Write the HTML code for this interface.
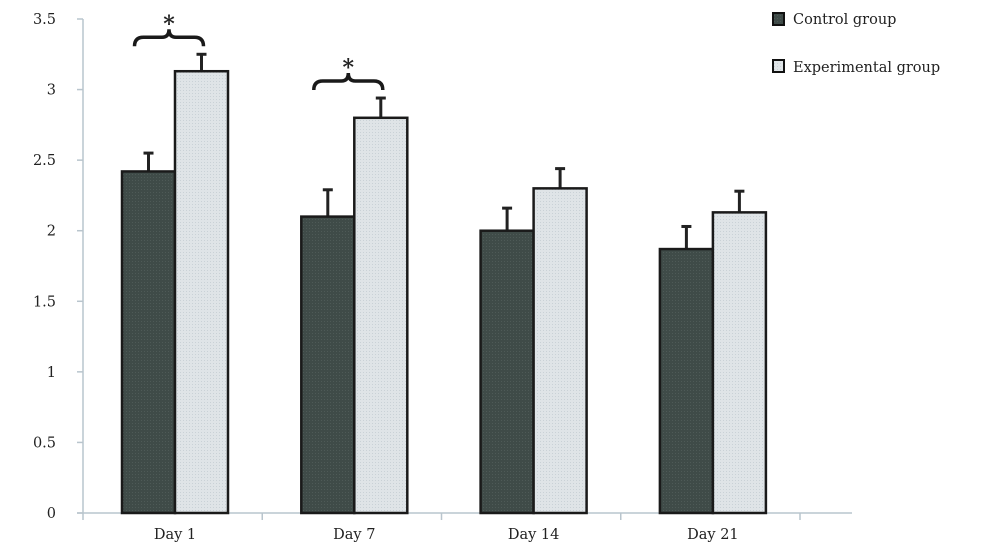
<!DOCTYPE html>
<html><head><meta charset="utf-8"><style>
html,body{margin:0;padding:0;background:#fff;}
svg text{font-family:"DejaVu Serif","Liberation Serif",serif;fill:#222;}
</style></head><body>
<svg id="chart" width="1000" height="554" xmlns="http://www.w3.org/2000/svg">
<defs>
<pattern id="dotsLight" width="3" height="3" patternUnits="userSpaceOnUse"><rect width="3" height="3" fill="#dfe4e7"/><rect width="1" height="1" fill="#c9d1d6"/></pattern>
<pattern id="dotsDark" width="3" height="3" patternUnits="userSpaceOnUse"><rect width="3" height="3" fill="#3f4b48"/><rect width="1" height="1" fill="#4e5a57"/></pattern>
</defs>
<g id="axes"></g>
<g id="bars"></g>
<g id="annot"></g>
<g>
<rect x="773" y="13" width="11" height="12" fill="url(#dotsDark)" stroke="#111" stroke-width="2"/>
<text x="793" y="24" font-size="14.5">Control group</text>
<rect x="773" y="60" width="11" height="12" fill="url(#dotsLight)" stroke="#111" stroke-width="2"/>
<text x="793" y="72" font-size="14.5">Experimental group</text>
</g>
</svg>
<script>
const categories=["Day 1","Day 7","Day 14","Day 21"];
const controlValues=[2.42,2.1,2.0,1.87];
const controlErrors=[0.13,0.19,0.16,0.16];
const experimentalValues=[3.13,2.8,2.3,2.13];
const experimentalErrors=[0.12,0.14,0.14,0.15];
const yTicks=["0","0.5","1","1.5","2","2.5","3","3.5"];
const significant=[true,true,false,false];

const NS="http://www.w3.org/2000/svg";
const x0=83,x1=852,yBase=513,yTop=19,yMax=3.5;
const groupW=(800-83)/4;
function y(v){return yBase-(v/yMax)*(yBase-yTop);}
function gx(i){return 122+i*179.3;}
function mk(tag,attrs,parent){const e=document.createElementNS(NS,tag);for(const k in attrs)e.setAttribute(k,attrs[k]);parent.appendChild(e);return e;}
const axes=document.getElementById('axes'),bars=document.getElementById('bars'),annot=document.getElementById('annot');
const ax='#b9c5cd';
let l=mk('line',{x1:x0,y1:yTop,x2:x0,y2:yBase,stroke:ax,'stroke-width':1.5},axes);


l=mk('line',{x1:x0-6,y1:yBase,x2:x1,y2:yBase,stroke:ax,'stroke-width':1.5},axes);


yTicks.forEach((t,i)=>{const v=parseFloat(t);const yy=y(v);
 let tk=mk('line',{x1:x0-6,y1:yy,x2:x0,y2:yy,stroke:ax,'stroke-width':1.5},axes);
 
 
 let tx=mk('text',{x:56,y:yy+5,'font-size':14.5,'text-anchor':'end'},axes);tx.textContent=t;
 
 
});
for(let i=0;i<=categories.length;i++){const xx=x0+i*groupW;
 let tk=mk('line',{x1:xx,y1:yBase,x2:xx,y2:yBase+7,stroke:ax,'stroke-width':1.5},axes);
 
 }
const bw=53;
categories.forEach((c,i)=>{
 const bx=gx(i);
 const series=[[controlValues[i],controlErrors[i],'url(#dotsDark)','bar-control'],[experimentalValues[i],experimentalErrors[i],'url(#dotsLight)','bar-experimental']];
 series.forEach((s,j)=>{
  const xx=bx+j*bw, top=y(s[0]);
  const cx=xx+bw/2, et=y(s[0]+s[1]);
  let e=mk('line',{x1:cx,y1:top,x2:cx,y2:et,stroke:'#222','stroke-width':3},bars);
  
  
  e=mk('line',{x1:cx-5,y1:et,x2:cx+5,y2:et,stroke:'#222','stroke-width':3},bars);
  
  
  const r=mk('rect',{x:xx,y:top,width:bw,height:yBase-top,fill:s[2],stroke:'#1a1a1a','stroke-width':2.5},bars);
  
  
 });
 const t=mk('text',{x:bx+bw,y:539,'font-size':14.5,'text-anchor':'middle'},axes);t.textContent=c;
 
 
 if(significant[i]){
  const lx=bx+bw/2-14,rx=bx+bw*1.5+2,mx=(lx+rx)/2;
  const by=y(experimentalValues[i]+experimentalErrors[i])-8;
  const p=mk('path',{d:`M${lx},${by} q0,-9 9,-9 L${mx-7},${by-9} q7,0 7,-8 q0,8 7,8 L${rx-9},${by-9} q9,0 9,9`,fill:'none',stroke:'#1a1a1a','stroke-width':3.5},annot);
  
  
  const st=mk('text',{x:mx,y:by-15,'font-size':22,'font-weight':'bold','text-anchor':'middle'},annot);st.textContent='*';
  
  
 }
});
</script>
</body></html>
